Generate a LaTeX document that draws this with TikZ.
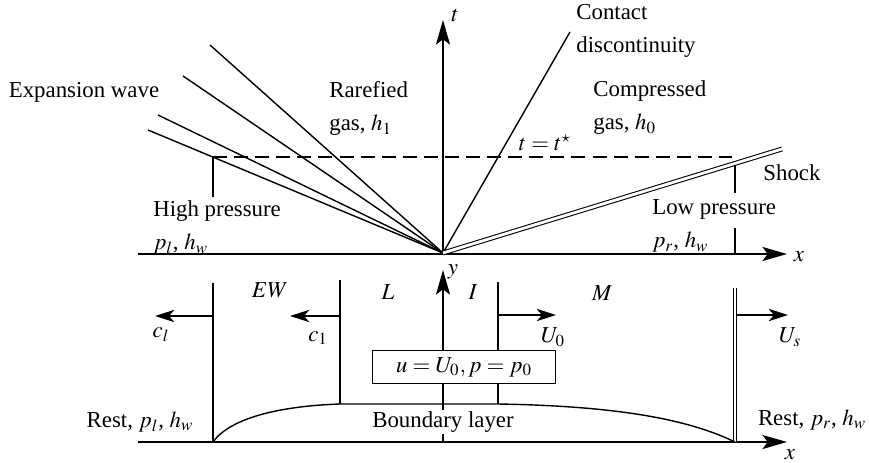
\documentclass[tikz,border=0pt]{standalone}
\usepackage{mathptmx}
\usepackage{fontspec}
\setmainfont{Liberation Serif}
\usetikzlibrary{arrows.meta,positioning}
\tikzset{
  axisline/.style={-{Stealth[length=14pt,width=8pt,inset=3pt]}, line width=0.9pt},
  speed/.style={-{Stealth[length=11pt,width=7pt,inset=3pt]}, line width=0.8pt},
  wave/.style={line width=0.8pt},
  shockline/.style={line width=0.6pt, double, double distance=1.6pt},
  front/.style={line width=0.8pt},
  marker/.style={dashed, dash pattern=on 8pt off 4pt, line width=0.8pt},
  annot/.style={inner sep=0pt, font=\fontsize{13}{17}\selectfont},
  textblock/.style={annot, align=left, anchor=north west, font=\fontsize{13}{19}\selectfont},
  statebox/.style={draw, line width=0.8pt, fill=white, inner sep=0pt,
    minimum width=3.66cm, minimum height=0.66cm, font=\fontsize{13}{17}\selectfont}
}
\begin{document}
\begin{tikzpicture}[x=0.02cm, y=-0.02cm]
  \useasboundingbox (0,0) rectangle (869,463);
  % x-t diagram
  \coordinate (O) at (443,253);
  \coordinate (xl) at (138,254);
  \coordinate (xr) at (787,254);
  \coordinate (tt) at (443,20);
  \draw[axisline] (xl) -- (xr);
  \draw[axisline] (O) -- (tt);
  \node[annot] (tlab) at (455,15) {$t$};
  \node[annot] (xlab) at (799,257) {$x$};
  \foreach \x/\y [count=\i] in {210/45,183/76,158/115,148/130}
    \coordinate (e\i) at (\x,\y);
  \foreach \i in {1,...,4}
    \draw[wave] (O) -- (e\i);
  \coordinate (cd) at (570,32);
  \coordinate (sh) at (782,149);
  \draw[wave] (O) -- (cd);
  \draw[shockline] (O) -- (sh);
  \coordinate (d1) at (213,157);
  \coordinate (d2) at (732,157);
  \coordinate (d3) at (213,197);
  \draw[marker] (d1) -- (d2);
  \draw[front] (d1) -- (d3);
  \coordinate (r1) at (735,165);
  \coordinate (r2) at (735,193);
  \coordinate (r3) at (735,228);
  \coordinate (r4) at (735,253);
  \draw[front] (r1) -- (r2);
  \draw[front] (r3) -- (r4);
  \node[annot] (ew) at (84,92) {Expansion wave};
  \node[textblock] (rare) at (329,81) {Rarefied\\gas, $h_1$};
  \node[textblock] (cont) at (576,4) {Contact\\discontinuity};
  \node[textblock] (comp) at (593,80) {Compressed\\gas, $h_0$};
  \node[annot] (tstar) at (545,143) {$t = t^\star$};
  \node[annot] (shock) at (792,173) {Shock};
  \node[textblock] (high) at (153,200) {High pressure\\$p_l$,\ $h_w$};
  \node[textblock] (low) at (652,199) {Low pressure\\$p_r$, $h_w$};
  % x-y plane
  \coordinate (bl) at (138,442);
  \coordinate (br) at (787,442);
  \coordinate (yb) at (443,442);
  \coordinate (yt) at (443,270);
  \draw[axisline] (bl) -- (br);
  \draw[axisline] (yb) -- (yt);
  \node[annot] (ylab) at (453,272) {$y$};
  \node[annot] (xblab) at (790,455) {$x$};
  \coordinate (f1t) at (213,283);
  \coordinate (f1b) at (213,442);
  \coordinate (f2t) at (340,280);
  \coordinate (f2b) at (340,404);
  \coordinate (f3t) at (498,282);
  \coordinate (f3b) at (498,404);
  \coordinate (f4t) at (735,288);
  \coordinate (f4b) at (735,442);
  \draw[front] (f1t) -- (f1b);
  \draw[front] (f2t) -- (f2b);
  \draw[front] (f3t) -- (f3b);
  \draw[shockline] (f4t) -- (f4b);
  \draw[front] (f1b) .. controls (230,418) and (280,406) .. (f2b)
    -- (f3b) .. controls (620,406) and (690,420) .. (f4b);
  \coordinate (a1) at (213,316);
  \coordinate (a1e) at (155,316);
  \coordinate (a2) at (340,316);
  \coordinate (a2e) at (290,316);
  \coordinate (a3) at (498,315);
  \coordinate (a3e) at (556,315);
  \coordinate (a4) at (737,315);
  \coordinate (a4e) at (788,315);
  \draw[speed] (a1) -- (a1e);
  \draw[speed] (a2) -- (a2e);
  \draw[speed] (a3) -- (a3e);
  \draw[speed] (a4) -- (a4e);
  \node[annot] (cl) at (161,335) {$c_l$};
  \node[annot] (c1) at (318,338) {$c_1$};
  \node[annot] (u0) at (553,337) {$U_0$};
  \node[annot] (us) at (790,337) {$U_s$};
  \node[annot] (zew) at (270,290) {$EW$};
  \node[annot] (zl) at (388,292) {$L$};
  \node[annot] (zi) at (473,292) {$I$};
  \node[annot] (zm) at (602,293) {$M$};
  \node[statebox] (state) at (464,367) {$u = U_0, p = p_0$};
  \node[annot, fill=white, inner sep=1pt] (bnd) at (443,422) {Boundary layer};
  \node[annot] (restl) at (140,422) {Rest, $p_l$, $h_w$};
  \node[annot] (restr) at (812,420) {Rest, $p_r$, $h_w$};
\end{tikzpicture}
\end{document}
